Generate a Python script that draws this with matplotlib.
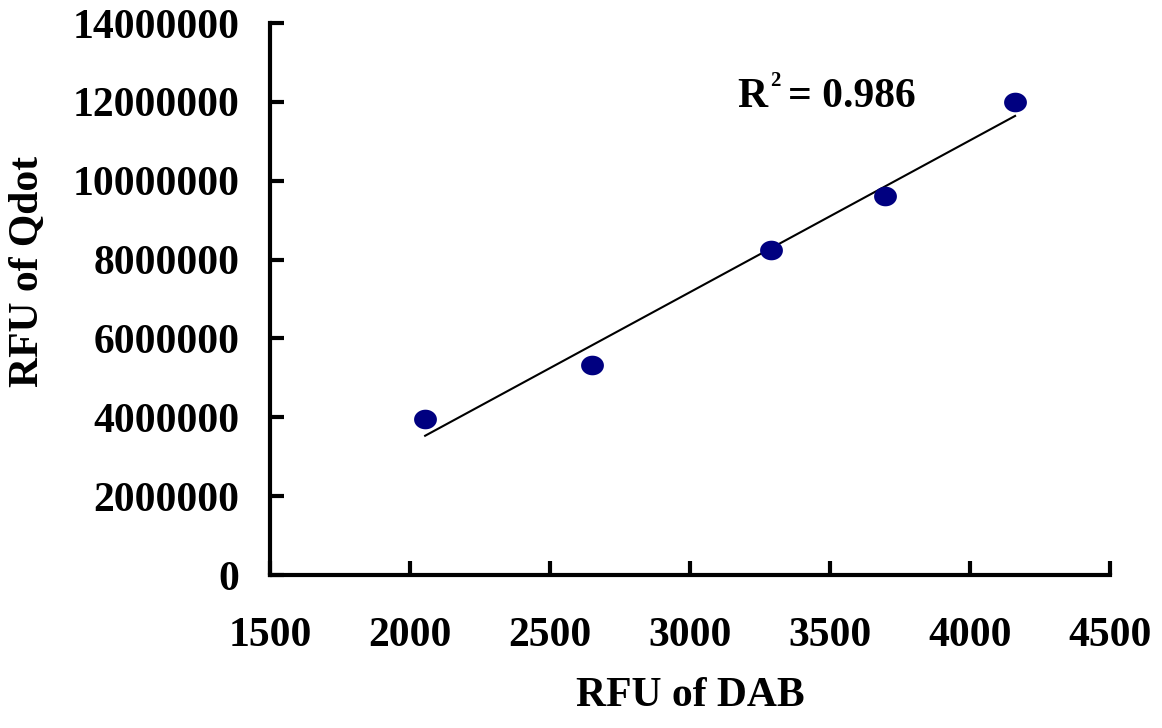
import numpy as np
import matplotlib
matplotlib.use("Agg")
import matplotlib.pyplot as plt
from matplotlib.path import Path

# Data
rfu_dab = [2054, 2650, 3289, 3696, 4161]
rfu_qdot = [3960000, 5330000, 8240000, 9610000, 12000000]
x_ticks = [1500, 2000, 2500, 3000, 3500, 4000, 4500]
y_ticks = [0, 2000000, 4000000, 6000000, 8000000, 10000000, 12000000, 14000000]
r2_text = "0.986"

plt.rcParams['font.family'] = ['Liberation Serif', 'DejaVu Serif']
plt.rcParams['font.weight'] = 'bold'

fig = plt.figure(figsize=(11.62, 7.28), dpi=100)
ax = fig.add_axes([270/1162, 1 - 575/728, (1110 - 270)/1162, (575 - 23)/728])

# slightly wide ellipse marker
t = np.linspace(0, 2 * np.pi, 60)
ell = Path(np.column_stack([np.cos(t), 0.86 * np.sin(t)]), closed=True)
ax.scatter(rfu_dab, rfu_qdot, s=270, marker=ell, color='#000080', zorder=3, linewidths=0)

# linear trend line
coef = np.polyfit(rfu_dab, rfu_qdot, 1)
xs = np.array([min(rfu_dab), max(rfu_dab)])
ax.plot(xs, np.polyval(coef, xs), color='black', lw=1.5, zorder=2)

ax.set_xlim(1500, 4500)
ax.set_ylim(0, 14000000)
ax.set_xticks(x_ticks)
ax.set_yticks(y_ticks)
ax.set_xticklabels([str(v) for v in x_ticks])
ax.set_yticklabels([str(v) for v in y_ticks])

for s in ['top', 'right']:
    ax.spines[s].set_visible(False)
for s in ['left', 'bottom']:
    ax.spines[s].set_linewidth(3)

ax.tick_params(axis='both', direction='in', length=10, width=3, labelsize=30)
ax.tick_params(axis='x', pad=30)
ax.tick_params(axis='y', pad=22)
for lab in ax.get_xticklabels() + ax.get_yticklabels():
    lab.set_fontweight('bold')

ax.set_xlabel('RFU of DAB', fontsize=30, fontweight='bold', labelpad=16)
ax.set_ylabel('RFU of Qdot', fontsize=30, fontweight='bold')
ax.yaxis.set_label_coords(-0.265, 0.55)

# R^2 annotation
xr, yr = 3168, 11870000
ax.text(xr, yr, 'R', fontsize=30, fontweight='bold', ha='left', va='baseline')
ax.annotate('2', xy=(xr, yr), xytext=(24, 15), textcoords='offset points',
            fontsize=15, fontweight='bold', ha='left', va='baseline')
ax.annotate('= ' + r2_text, xy=(xr, yr), xytext=(37, 0), textcoords='offset points',
            fontsize=30, fontweight='bold', ha='left', va='baseline')

fig.savefig('out.png', dpi=100)
